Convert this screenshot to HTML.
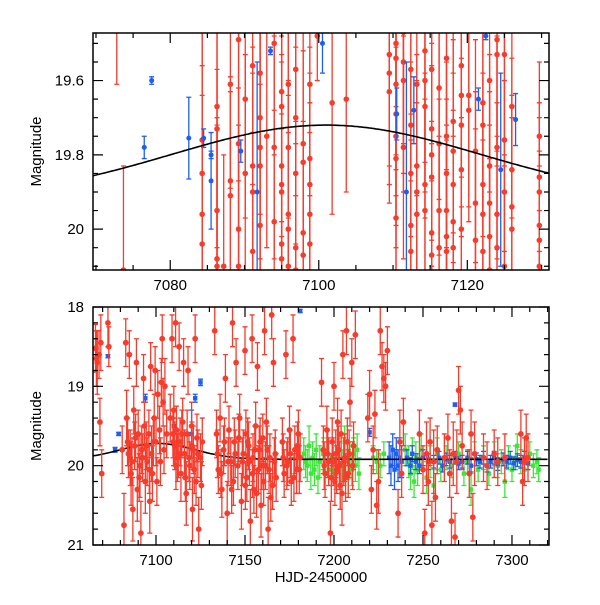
<!DOCTYPE html>
<html><head><meta charset="utf-8"><style>
html,body{margin:0;padding:0;background:#fff}
svg text{font-family:"Liberation Sans",sans-serif}
</style></head><body>
<svg id="chart" width="600" height="600" viewBox="0 0 600 600" xmlns="http://www.w3.org/2000/svg">
<defs>
<clipPath id="clipTop"><rect x="93" y="33" width="456" height="237"/></clipPath>
<clipPath id="clipBot"><rect x="93" y="307" width="456" height="238"/></clipPath>
</defs>
<g id="top"></g>
<g id="bot"></g>
</svg>
<script>
// ===== Top panel data (zoom) =====
const topRedCols = [7072.8,7073.7,7084.3,7086.3,7087.2,7088.1,7089.2,7090.1,7091.1,7092.1,7093,7094,7095,7095.9,7096.9,7097.9,7098.8,7099.8,7101.8,7103.7,7109.5,7110.4,7111.4,7112.4,7113.2,7114.3,7115.2,7116.2,7117.2,7118.1,7119.2,7120.2,7121.1,7122.1,7123,7124,7125,7126,7129.7];
const topRedMags = [[19.40],[20.11],[19.76,19.85,19.96,20.04],[19.67,19.73,19.95,20.08,20.10],[20.10],[19.61,19.87,19.91],[19.49,19.77,20.00,20.10],[19.65,19.85],[19.56,19.83,19.90,20.06],[19.58,19.70,19.78,19.83,19.99],[19.75],[19.50,19.78,19.98],[19.63,19.67,19.83,19.88,19.90,20.04,20.08],[19.61,19.78,19.96,20.00,20.10],[19.57,19.70,19.85,20.05,20.11],[19.77,19.82,20.01,20.07],[19.61,19.81,19.88,19.96,20.04],[19.48],[19.66],[19.65],[19.53,19.58,19.63],[19.50,19.54,19.61,19.69,19.75,19.81,19.97],[19.47,19.55,19.60,19.78],[19.57,19.72,19.85,19.99,20.06],[19.61,19.83,19.90,19.96],[19.52,19.60,19.67,19.88,19.95],[19.57,19.73,19.80,19.86,20.01,20.07],[19.62,19.77,19.95,20.05],[19.54,19.75,19.85,19.95,20.02,20.06],[19.71,19.79,19.88,19.98,20.05],[19.56,19.64,19.72,19.84,20.00],[19.64,19.68],[19.79,19.93,20.03],[19.66,19.72,19.88,19.96,20.06],[19.60,19.83,19.93,20.02,20.11],[19.49,19.53,19.78,19.96,20.05],[19.53,19.76,19.90,20.10],[19.67,19.84,19.94,20.00],[19.75,19.86,19.90,19.99,20.03,20.10]];
const topRedErr = [0.21,0.28,0.4,0.38,0.3,0.28,0.38,0.32,0.32,0.38,0.3,0.3,0.35,0.36,0.34,0.3,0.3,0.12,0.3,0.25,0.3,0.3,0.3,0.3,0.3,0.3,0.3,0.3,0.3,0.3,0.3,0.3,0.3,0.3,0.3,0.3,0.3,0.3,0.2];
const topBlueT = [7076.5,7077.5,7082.5,7084.5,7085.5,7085.5,7089.5,7091.7,7093.5,7100.5,7110.5,7111.8,7112.8,7121.5,7122.5,7124.5,7126.5];
const topBlueM = [19.78,19.60,19.755,19.755,19.87,19.80,19.79,19.90,19.52,19.50,19.69,19.90,19.68,19.65,19.48,19.84,19.705];
const topBlueE = [0.03,0.01,0.11,0.025,0.13,0.01,0.03,0.35,0.01,0.08,0.07,0.35,0.09,0.03,0.01,0.26,0.07];
const topXTicks = [7080,7100,7120];
const topYTicks = ["19.6","19.8","20"];

// ===== Bottom panel data =====
const botRedT = [7066,7066.5,7067,7068,7068.5,7069,7069.5,7073,7073.5,7081,7082,7083,7083.5,7084,7085,7085.5,7086,7087,7087.5,7088,7089,7089.5,7090,7091,7091.5,7092,7093,7093.5,7094,7095,7096,7096.5,7097,7097.5,7098,7099,7099.5,7100,7101,7102,7103,7103.5,7104,7105,7108,7109,7109.5,7110,7110.5,7111,7111.5,7112,7113,7113.5,7114,7115,7115.5,7116,7117,7117.5,7118,7119,7120,7120.5,7121,7122,7122.5,7123,7124,7125,7126,7133,7134,7135,7136,7137,7138,7139,7140,7141,7142,7143,7143.5,7144,7145,7146,7147,7148,7149,7150,7150.5,7151,7152,7153,7154,7154.5,7155,7156,7157,7157.5,7158,7159,7160,7161,7161.5,7162,7163,7164,7165,7165.5,7166,7167,7171,7172,7173,7174,7175,7176,7177,7178,7179,7180,7181,7193,7194,7195,7196,7197,7198,7199,7200,7200.5,7201,7202,7203,7204,7204.5,7205,7206,7207,7207.5,7208,7209,7210,7212,7219,7220,7221,7222,7223,7224,7225,7226,7227,7228,7229,7230,7236,7237,7238,7239,7248,7250,7251,7252,7253,7254,7255,7256,7257,7258,7262,7264,7265,7266,7267,7268,7269,7270,7271,7272,7276,7277,7278,7279,7284,7286,7290,7292,7296,7305,7306,7307,7308,7309,
7084.5,7086.5,7088.5,7090.5,7092.5,7094.5,7096.2,7098.5,7100.5,7102.5,7104.5,7106,7109.8,7111.2,7112.5,7114.5,7116.5,7118.5,7120.2,7121.5,7123.5,7125.5,7134.5,7136.5,7138.5,7140.5,7142.5,7144.5,7146.5,7148.5,7150.2,7151.5,7152.5,7154.2,7155.5,7156.5,7158.5,7159.5,7160.5,7162.5,7163.5,7164.5,7166.5,7167.5,7171.5,7173.5,7175.5,7177.5,7179.5,7180.5,7194.5,7196.5,7198.5,7199.5,7201.5,7202.5,7203.5,7205.5,7206.5,7208.5,7210.5,7211];
const botRedM = [18.52,18.65,18.70,18.60,19.45,18.45,20.10,18.20,18.50,19.80,20.75,18.45,19.40,19.70,18.60,19.90,20.10,20.55,19.30,19.75,18.70,20.30,19.60,20.00,20.85,19.80,18.90,19.50,20.20,19.95,19.60,20.45,18.75,19.85,20.10,19.40,18.80,19.70,19.10,19.55,18.95,18.40,19.20,19.00,19.40,18.40,19.60,19.30,19.75,18.20,19.55,19.90,18.50,19.70,20.10,19.45,18.70,19.85,20.35,19.60,18.80,20.00,19.50,20.55,19.80,18.40,20.20,19.65,20.80,19.90,19.70,18.30,19.60,20.05,19.40,20.30,19.80,18.90,20.60,19.55,19.95,18.20,20.20,19.70,18.70,20.00,19.40,20.45,19.85,18.55,19.60,20.15,19.75,20.70,18.40,19.90,20.30,19.50,18.75,20.05,19.80,20.50,19.65,18.30,20.00,19.45,20.80,19.90,18.10,20.25,18.70,19.85,19.70,20.10,18.60,19.95,19.55,20.20,18.40,19.80,20.05,19.60,19.90,18.95,19.80,20.10,19.55,19.95,20.85,19.70,19.00,20.20,19.85,19.45,20.00,19.60,20.35,18.60,19.90,18.30,19.70,20.10,19.20,18.70,18.35,19.40,19.10,20.30,19.80,19.35,20.50,20.20,18.30,18.75,18.90,19.00,18.55,20.60,19.70,20.10,19.45,19.60,20.05,20.85,19.85,20.20,19.70,20.75,19.95,20.40,19.80,19.90,19.65,20.10,20.70,19.85,20.90,19.95,19.05,19.30,19.75,20.10,19.60,20.65,19.85,19.90,20.00,19.85,19.95,19.90,19.60,20.20,19.95,19.65,19.90,
19.85,19.95,19.65,20.15,19.90,19.75,20.05,19.70,20.20,19.95,19.80,19.60,19.70,20.00,19.85,19.60,20.15,19.90,19.75,20.05,19.85,20.25,19.85,20.10,19.70,19.95,20.30,19.85,19.65,19.95,20.25,19.70,19.95,20.10,19.80,20.35,19.70,20.00,20.20,19.80,20.05,20.40,19.95,20.15,19.90,20.00,19.85,20.15,19.75,20.05,20.00,19.85,20.15,19.95,20.05,19.80,20.25,19.95,20.15,19.85,20.00,19.75];
const botRedE = [0.3,0.35,0.4,0.3,0.3,0.35,0.3,0.3,0.25,0.3,0.4,0.3,0.35,0.3,0.3,0.35,0.4,0.4,0.3,0.3,0.3,0.4,0.3,0.4,0.4,0.3,0.3,0.3,0.4,0.3,0.3,0.4,0.3,0.35,0.35,0.3,0.3,0.3,0.3,0.3,0.3,0.3,0.3,0.35,0.3,0.3,0.3,0.3,0.3,0.3,0.3,0.3,0.3,0.3,0.35,0.3,0.3,0.3,0.4,0.3,0.3,0.3,0.3,0.4,0.3,0.3,0.3,0.3,0.4,0.3,0.3,0.3,0.3,0.3,0.3,0.35,0.3,0.3,0.4,0.3,0.3,0.3,0.3,0.3,0.3,0.3,0.3,0.35,0.3,0.3,0.3,0.3,0.3,0.4,0.3,0.3,0.3,0.3,0.3,0.3,0.3,0.4,0.3,0.3,0.3,0.3,0.4,0.3,0.3,0.3,0.3,0.3,0.3,0.3,0.3,0.3,0.3,0.3,0.3,0.3,0.3,0.3,0.3,0.3,0.3,0.3,0.3,0.3,0.4,0.3,0.3,0.3,0.3,0.3,0.3,0.3,0.4,0.3,0.3,0.3,0.3,0.3,0.3,0.3,0.3,0.3,0.3,0.3,0.3,0.3,0.3,0.4,0.3,0.3,0.3,0.3,0.3,0.3,0.4,0.3,0.3,0.3,0.3,0.3,0.4,0.3,0.3,0.3,0.4,0.3,0.3,0.3,0.3,0.3,0.3,0.4,0.3,0.4,0.3,0.3,0.3,0.3,0.3,0.3,0.4,0.3,0.3,0.3,0.3,0.3,0.3,0.3,0.3,0.3,0.3,0.3,
0.3,0.3,0.3,0.3,0.3,0.3,0.3,0.3,0.3,0.3,0.3,0.3,0.3,0.3,0.3,0.3,0.3,0.3,0.3,0.3,0.3,0.3,0.3,0.3,0.3,0.3,0.3,0.3,0.3,0.3,0.3,0.3,0.3,0.3,0.3,0.3,0.3,0.3,0.3,0.3,0.3,0.3,0.3,0.3,0.3,0.3,0.3,0.3,0.3,0.3,0.3,0.3,0.3,0.3,0.3,0.3,0.3,0.3,0.3,0.3,0.3,0.3];
const botGreenT = [7183,7184,7185,7186,7187,7188,7189,7190,7191,7192,7194,7197,7199,7201,7203,7205,7206,7208,7209,7210,7211,7212,7213,7214,7222,7224,7226,7228,7240,7242,7243,7244,7245,7246,7247,7249,7252,7254,7256,7258,7260,7263,7266,7270,7273,7275,7277,7279,7281,7284,7287,7290,7292,7294,7296,7298,7300,7302,7303,7305,7307,7310,7312,7314,7315];
const botGreenM = [19.85,19.95,20.00,19.75,20.10,19.90,20.05,19.80,20.15,19.95,19.85,20.05,19.90,20.10,19.80,20.00,19.70,20.15,19.90,20.05,19.85,20.00,19.80,20.10,19.90,19.95,20.00,19.85,19.80,19.95,20.10,19.85,20.20,19.90,20.05,19.80,20.15,19.95,20.25,19.85,20.05,19.90,20.00,19.85,20.10,19.95,20.30,19.85,20.05,19.90,20.10,19.85,20.00,19.95,20.20,19.90,20.05,19.90,19.75,19.95,20.05,19.85,20.00,19.95,20.05];
const botGreenE = [0.2,0.2,0.2,0.25,0.2,0.2,0.2,0.2,0.2,0.2,0.2,0.2,0.2,0.2,0.2,0.2,0.2,0.2,0.2,0.2,0.2,0.2,0.2,0.2,0.15,0.15,0.15,0.15,0.2,0.2,0.2,0.2,0.2,0.2,0.2,0.2,0.2,0.2,0.2,0.2,0.15,0.15,0.15,0.15,0.15,0.15,0.2,0.15,0.15,0.15,0.15,0.15,0.15,0.15,0.2,0.15,0.15,0.15,0.15,0.15,0.15,0.15,0.15,0.15,0.15];
const botBlueT = [7073,7077,7079,7085,7094,7110,7120,7122,7125,7181,7220,7268,7231,7232,7233,7234,7235,7236,7237,7238,7241,7243,7244,7246,7248,7250,7253,7256,7259,7261,7263,7265,7268,7270,7272,7275,7277,7280,7282,7284,7286,7288,7290,7292,7295,7297,7299,7301,7303,7305,7307,7309];
const botBlueM = [18.62,19.80,19.60,19.76,19.15,19.50,19.60,19.15,18.95,18.05,19.58,19.23,19.90,20.00,19.80,20.05,19.85,20.00,19.90,19.95,19.90,20.00,19.85,19.95,20.00,19.90,19.95,19.95,19.90,20.00,19.92,19.95,19.90,19.97,19.95,19.90,20.00,19.92,19.95,19.90,20.00,19.95,19.90,19.98,19.92,19.95,19.90,19.97,19.93,19.95,19.90,19.97];
const botBlueE = [0.02,0.03,0.02,0.05,0.05,0.1,0.3,0.05,0.04,0.02,0.05,0.02,0.2,0.25,0.2,0.25,0.2,0.2,0.25,0.2,0.1,0.1,0.1,0.1,0.1,0.1,0.1,0.08,0.08,0.08,0.08,0.08,0.08,0.08,0.08,0.08,0.08,0.08,0.08,0.08,0.08,0.08,0.08,0.08,0.08,0.08,0.08,0.08,0.08,0.08,0.08,0.08];
const botXTicks = [7100,7150,7200,7250,7300];
const botYTicks = ["18","19","20","21"];

const NS = "http://www.w3.org/2000/svg";
const RED = "#f63c2c", BLUE = "#1e5ef0", GREEN = "#3be838";
function mk(tag, attrs, parent){const e=document.createElementNS(NS,tag);for(const k in attrs)e.setAttribute(k,attrs[k]);parent.appendChild(e);return e;}
function model(t){return 19.92-0.2*Math.exp(-Math.pow((t-7101)/29.4,2));}

function panel(g, cfg){
  const sx = v => cfg.x0 + (v-cfg.t0)/(cfg.t1-cfg.t0)*(cfg.x1-cfg.x0);
  const sy = v => cfg.y0 + (v-cfg.m0)/(cfg.m1-cfg.m0)*(cfg.y1-cfg.y0);
  const data = mk('g',{'clip-path':'url(#'+cfg.clip+')'},g);
  
  
  function series(T,M,E,color,r,name,sq){
    const sg = mk('g',{},data);
    
    
    for(let i=0;i<T.length;i++){
      const x=sx(T[i]), y=sy(M[i]), ya=sy(M[i]-E[i]), yb=sy(M[i]+E[i]);
      mk('path',{d:`M${x},${ya}V${yb}M${x-2.5},${ya}H${x+2.5}M${x-2.5},${yb}H${x+2.5}`,stroke:color,'stroke-width':1.3,fill:'none'},sg);
      let p;
      if(sq) p=mk('rect',{x:x-2.2,y:y-2.2,width:4.4,height:4.4,fill:color},sg);
      else p=mk('circle',{cx:x,cy:y,r:r,fill:color},sg);
      
      
    }
  }
  cfg.draw(series);
  let d='';
  for(let t=cfg.t0;t<=cfg.t1;t+=(cfg.t1-cfg.t0)/300){d+=(d?'L':'M')+sx(t).toFixed(1)+','+sy(model(t)).toFixed(1);}
  const c=mk('path',{d:d,stroke:'#000','stroke-width':1.6,fill:'none'},data);
  
  
  if(cfg.redAfter) cfg.redAfter(series);
  const f=mk('rect',{x:cfg.x0,y:cfg.y0,width:cfg.x1-cfg.x0,height:cfg.y1-cfg.y0,fill:'none',stroke:'#000','stroke-width':1.5},g);
  
  
  let td='';
  for(let v=Math.ceil(cfg.t0/cfg.xmin)*cfg.xmin; v<=cfg.t1; v+=cfg.xmin){
    const x=sx(v), maj=Math.abs(v/cfg.xmaj-Math.round(v/cfg.xmaj))<1e-6, L=maj?10:5;
    td+=`M${x},${cfg.y1}v${-L}M${x},${cfg.y0}v${L}`;
  }
  for(let k=Math.ceil(cfg.m0/cfg.ymin-1e-6); k*cfg.ymin<=cfg.m1+1e-9; k++){
    const v=k*cfg.ymin, y=sy(v), maj=Math.abs(v/cfg.ymaj-Math.round(v/cfg.ymaj))<1e-6, L=maj?10:5;
    td+=`M${cfg.x0},${y}h${L}M${cfg.x1},${y}h${-L}`;
  }
  mk('path',{d:td,stroke:'#000','stroke-width':1.2,fill:'none'},g);
  cfg.xTicks.forEach(v=>{
    const t=mk('text',{x:sx(v),y:cfg.y1+20,'text-anchor':'middle','font-size':15},g);
    t.textContent=v;
    
    
  });
  cfg.yTicks.forEach(s=>{
    const t=mk('text',{x:cfg.x0-9,y:sy(parseFloat(s))+5,'text-anchor':'end','font-size':15},g);
    t.textContent=s;
    
    
  });
  const yl=mk('text',{x:0,y:0,transform:`translate(${cfg.x0-52},${(cfg.y0+cfg.y1)/2}) rotate(-90)`,'text-anchor':'middle','font-size':15},g);
  yl.textContent='Magnitude';
  
  
}

panel(document.getElementById('top'),{name:'top',clip:'clipTop',x0:93,x1:549,y0:33,y1:270,t0:7069.6,t1:7131.0,m0:19.472,m1:20.11,
  xmin:5,xmaj:20,ymin:0.05,ymaj:0.2,xTicks:topXTicks,yTicks:topYTicks,
  draw:function(series){
    const T=[],M=[],E=[];
    topRedCols.forEach((t,i)=>topRedMags[i].forEach(m=>{T.push(t);M.push(m);E.push(topRedErr[i]);}));
    series(T,M,E,RED,2.8,'top-red-series');
    series(topBlueT,topBlueM,topBlueE,BLUE,2.5,'top-blue-series');
  }});

panel(document.getElementById('bot'),{name:'bottom',clip:'clipBot',x0:93,x1:549,y0:307,y1:545,t0:7064.6,t1:7320.8,m0:18,m1:21,
  xmin:10,xmaj:50,ymin:0.2,ymaj:1,xTicks:botXTicks,yTicks:botYTicks,
  draw:function(series){
    series(botGreenT,botGreenM,botGreenE,GREEN,2,'bottom-green-series',true);
    series(botBlueT,botBlueM,botBlueE,BLUE,2.2,'bottom-blue-series',true);
  },
  redAfter:function(series){
    series(botRedT,botRedM,botRedE,RED,2.9,'bottom-red-series');
  }});

const xl=document.createElementNS(NS,'text');
xl.setAttribute('x',321);xl.setAttribute('y',582);xl.setAttribute('text-anchor','middle');xl.setAttribute('font-size',15);
xl.textContent='HJD-2450000';


document.getElementById('chart').appendChild(xl);
</script>
</body></html>
